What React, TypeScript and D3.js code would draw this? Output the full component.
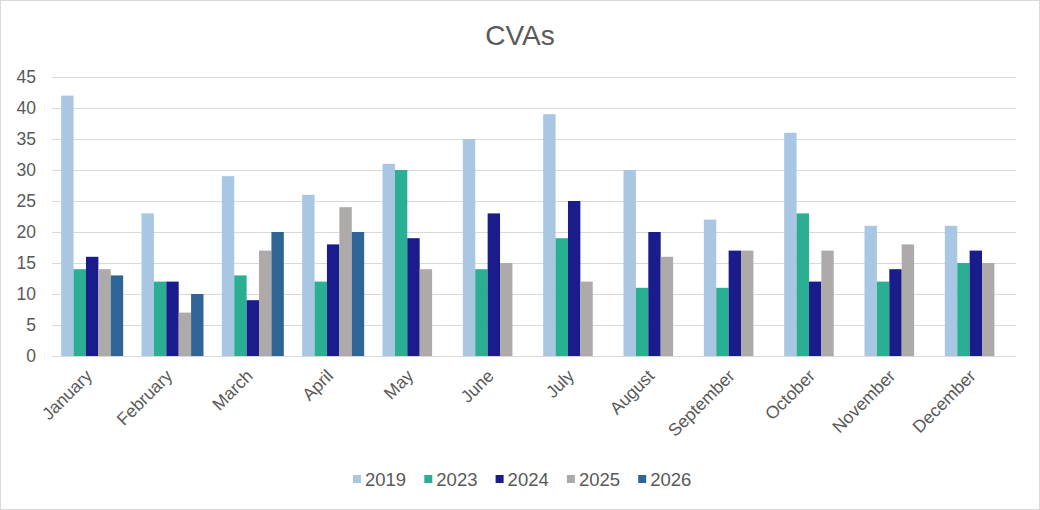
import React, { useEffect, useRef } from 'react';
import * as d3 from 'd3';

const months = ['January', 'February', 'March', 'April', 'May', 'June', 'July', 'August', 'September', 'October', 'November', 'December'];
const seriesNames = ['2019', '2023', '2024', '2025', '2026'];
const colors = ['#A9C6E3', '#2AAF93', '#1B1C8C', '#AEAAAA', '#2E6596'];

const v2019 = [42, 23, 29, 26, 31, 35, 39, 30, 22, 36, 21, 21];
const v2023 = [14, 12, 13, 12, 30, 14, 19, 11, 11, 23, 12, 15];
const v2024 = [16, 12, 9, 18, 19, 23, 25, 20, 17, 12, 14, 17];
const v2025 = [14, 7, 17, 24, 14, 15, 12, 16, 17, 17, 18, 15];
const v2026 = [13, 10, 20, 20, null, null, null, null, null, null, null, null];
const yTicks = [0, 5, 10, 15, 20, 25, 30, 35, 40, 45];

const App = () => {
  const ref = useRef<SVGSVGElement>(null);

  useEffect(() => {
    const W = 1040;
    const H = 510;
    const left = 52, right = 1016, top = 77, bottom = 356;
    const font = '"Liberation Sans", Arial, sans-serif';
    const textColor = '#595959';
    const values = [v2019, v2023, v2024, v2025, v2026];

    const svg = d3.select(ref.current);
    svg.selectAll('*').remove();

    // background and frame
    svg.append('rect')
      .attr('x', 0.5).attr('y', 0.5)
      .attr('width', W - 1).attr('height', H - 1)
      .attr('fill', '#fff').attr('stroke', '#d9d9d9');

    // title
    svg.append('text')
      .attr('x', 520).attr('y', 45)
      .attr('text-anchor', 'middle')
      .style('font-family', font).style('font-size', '28px')
      .attr('fill', textColor)
      .text('CVAs');

    const x = d3.scaleBand().domain(months).range([left, right]).paddingInner(0).paddingOuter(0);
    const xInner = d3.scaleBand().domain(seriesNames).range([0, x.bandwidth()]).paddingInner(0).paddingOuter(0.74);
    const y = d3.scaleLinear().domain([0, 45]).range([bottom, top]);

    // gridlines
    svg.append('g').selectAll('line')
      .data(yTicks)
      .join('line')
      .attr('x1', left).attr('x2', right)
      .attr('y1', d => Math.round(y(d)) + 0.5).attr('y2', d => Math.round(y(d)) + 0.5)
      .attr('stroke', '#d9d9d9').attr('stroke-width', 1);

    // y tick labels
    svg.append('g').selectAll('text')
      .data(yTicks)
      .join('text')
      .attr('x', 36).attr('y', d => y(d) + 6)
      .attr('text-anchor', 'end')
      .style('font-family', font).style('font-size', '17.5px')
      .attr('fill', textColor)
      .text(d => d);

    // bars
    seriesNames.forEach((s, si) => {
      const data = months.map((m, i) => ({ m, v: values[si][i] })).filter(d => d.v !== null);
      svg.append('g').selectAll('rect')
        .data(data)
        .join('rect')
        .attr('x', d => (x(d.m) as number) + (xInner(s) as number))
        .attr('y', d => y(d.v as number))
        .attr('width', xInner.bandwidth())
        .attr('height', d => bottom - y(d.v as number))
        .attr('fill', colors[si]);
    });

    // month labels
    svg.append('g').selectAll('text')
      .data(months)
      .join('text')
      .attr('transform', d => `translate(${(x(d) as number) + x.bandwidth() / 2 + 1},${bottom + 21}) rotate(-45)`)
      .attr('text-anchor', 'end')
      .style('font-family', font).style('font-size', '17.5px')
      .attr('fill', textColor)
      .text(d => d);

    // legend
    const step = 71.3;
    const legendX = 353;
    const lg = svg.append('g').selectAll('g')
      .data(seriesNames)
      .join('g')
      .attr('transform', (d, i) => `translate(${legendX + i * step},479)`);
    lg.append('rect')
      .attr('x', 0).attr('y', -4)
      .attr('width', 8).attr('height', 8)
      .attr('fill', (d, i) => colors[i]);
    lg.append('text')
      .attr('x', 12).attr('y', 7)
      .style('font-family', font).style('font-size', '18.5px')
      .attr('fill', textColor)
      .text(d => d);
  }, []);

  return (
    <svg ref={ref} width={1040} height={510} style={{ position: 'absolute', left: 0, top: 0 }} />
  );
};

export default App;
